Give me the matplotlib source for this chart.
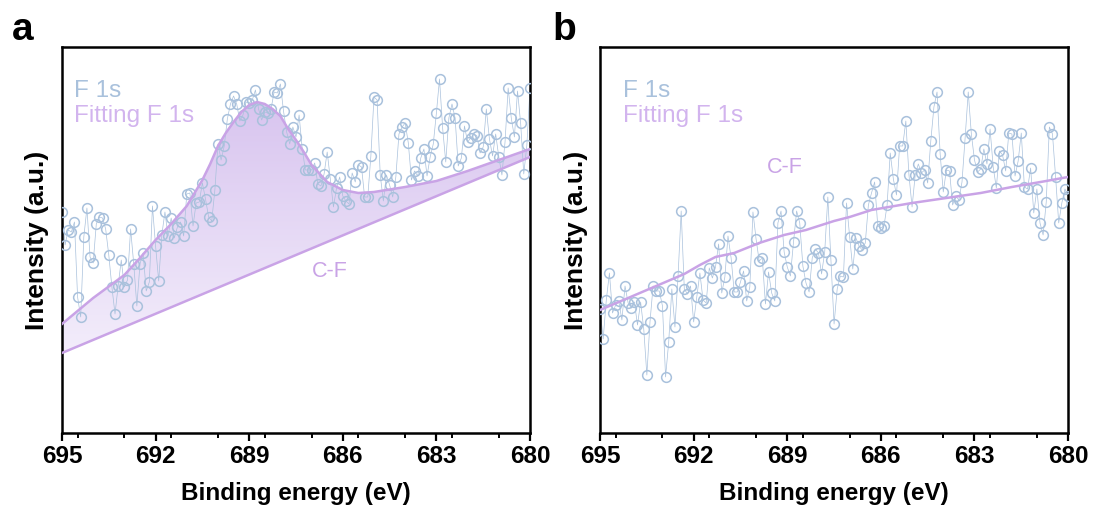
import matplotlib.pyplot as plt
import numpy as np
from matplotlib.colors import LinearSegmentedColormap
from matplotlib.ticker import MultipleLocator

plt.rcParams['font.family'] = ['Liberation Sans', 'DejaVu Sans']

# binding energy grid of the scans (eV)
be = np.round(np.arange(695.0, 679.95, -0.1), 1)

# panel a - measured F 1s (a.u.)
f1s_a = [221, 188, 203, 201, 211, 136, 116, 196, 225, 176, 170, 209, 216, 215, 204, 178,
         146, 119, 147, 173, 146, 153, 204, 169, 127, 169, 180, 142, 151, 227, 187, 152,
         198, 221, 197, 215, 195, 206, 211, 197, 239, 240, 207, 230, 231, 250, 234, 216,
         212, 243, 289, 273, 287, 314, 329, 337, 329, 312, 318, 331, 330, 333, 343, 324,
         313, 321, 320, 324, 341, 340, 349, 322, 301, 289, 306, 296, 318, 284, 263, 263,
         263, 270, 249, 247, 259, 281, 254, 226, 245, 256, 237, 232, 229, 260, 251, 268,
         266, 236, 236, 277, 336, 333, 258, 232, 258, 248, 236, 256, 299, 306, 310, 290,
         253, 262, 257, 275, 284, 257, 276, 289, 320, 354, 305, 271, 315, 329, 315, 267,
         275, 307, 291, 295, 299, 297, 280, 286, 324, 294, 277, 299, 276, 258, 291, 345,
         315, 296, 342, 310, 259, 288, 345]

# panel a - fitted envelope and linear background
fit_be_a = [695.0, 694.0, 693.0, 692.5, 692.0, 691.5, 691.0, 690.5, 690.25, 690.0, 689.75,
            689.5, 689.25, 689.0, 688.75, 688.5, 688.25, 688.0, 687.75, 687.5, 687.25,
            687.0, 686.5, 686.0, 685.5, 685.0, 684.0, 683.0, 682.0, 681.0, 680.0]
fit_a = [109, 135, 158, 175, 193, 209, 227, 253, 269, 287, 300,
         311, 321, 328, 331, 329, 324, 317, 304, 293, 281,
         268, 251, 243, 240, 241, 246, 252, 262, 273, 284]
base_be_a = [695.0, 680.0]
base_a = [80, 276]

# panel b - measured F 1s (a.u.)
f1s_b = [124, 94, 133, 160, 120, 128, 132, 113, 147, 130, 125, 131, 108, 131, 104, 58,
         111, 147, 142, 142, 127, 56, 91, 144, 106, 157, 222, 144, 139, 147, 111, 136,
         160, 133, 130, 165, 155, 166, 189, 140, 156, 197, 175, 141, 141, 151, 162, 132,
         146, 221, 194, 172, 175, 129, 161, 140, 132, 210, 222, 181, 166, 157, 191, 222,
         210, 167, 150, 141, 175, 184, 180, 159, 181, 236, 173, 109, 144, 157, 156, 230,
         196, 164, 195, 187, 183, 190, 228, 240, 251, 207, 205, 207, 228, 280, 254, 238,
         287, 287, 312, 258, 226, 258, 269, 260, 263, 250, 292, 326, 341, 279, 241, 263,
         262, 228, 237, 233, 251, 295, 341, 299, 273, 261, 264, 284, 269, 304, 266, 245,
         282, 278, 262, 300, 299, 257, 272, 300, 246, 244, 265, 220, 244, 210, 198, 231,
         306, 299, 256, 210, 230, 244, 237]

# panel b - fitted envelope
fit_be_b = [695.0, 693.2, 692.3, 691.8, 691.3, 690.7, 689.9, 689.1, 688.4, 687.5, 687.0,
            686.3, 685.0, 683.9, 682.8, 681.8, 680.7, 680.0]
fit_b = [123, 147, 159, 168, 176, 180, 190, 198, 203, 212, 216,
         223, 230, 235, 240, 246, 252, 256]

data_col = '#a9c1dc'
fit_col = '#c9a3e6'
label_col = '#d2b4ee'
fill_cmap = LinearSegmentedColormap.from_list('fill', ['#f3edfb', '#d8c4ef'])

fig = plt.figure(figsize=(10.93, 5.07), dpi=100)
ax_a = fig.add_axes([0.0567, 0.146, 0.4282, 0.7613])
ax_b = fig.add_axes([0.549, 0.146, 0.4282, 0.7613])


def style(ax):
    ax.set_xlim(695, 680)
    ax.set_ylim(0, 386)
    ax.set_xticks([695, 692, 689, 686, 683, 680])
    ax.xaxis.set_minor_locator(MultipleLocator(1.5))
    ax.set_yticks([])
    for s in ax.spines.values():
        s.set_linewidth(1.8)
    ax.tick_params(axis='x', which='major', direction='out', length=6, width=1.6,
                   labelsize=17.5, pad=3)
    ax.tick_params(axis='x', which='minor', direction='out', length=3.5, width=1.4)
    for t in ax.get_xticklabels():
        t.set_fontweight('bold')
    ax.set_xlabel('Binding energy (eV)', fontsize=17.5, fontweight='bold', labelpad=10)
    ax.set_ylabel('Intensity (a.u.)', fontsize=19, fontweight='bold', labelpad=9)


# panel a
poly = ax_a.fill(fit_be_a + base_be_a[::-1], fit_a + base_a[::-1],
                 facecolor='none', edgecolor='none')[0]
grad = np.linspace(0, 1, 256).reshape(-1, 1)
im = ax_a.imshow(grad, cmap=fill_cmap, origin='lower', aspect='auto',
                 extent=[695, 680, 80, 335], zorder=1)
im.set_clip_path(poly)
ax_a.plot(be, f1s_a, '-', color=data_col, lw=0.5, zorder=2)
ax_a.plot(be, f1s_a, 'o', mfc='none', mec=data_col, mew=1.1, ms=7, zorder=3)
ax_a.plot(fit_be_a, fit_a, color=fit_col, lw=1.8, zorder=4)
ax_a.plot(base_be_a, base_a, color=fit_col, lw=1.8, zorder=4)
ax_a.text(0.026, 0.870, 'F 1s', transform=ax_a.transAxes, color=data_col, fontsize=17.5)
ax_a.text(0.026, 0.806, 'Fitting F 1s', transform=ax_a.transAxes, color=label_col, fontsize=17.5)
ax_a.text(686.41, 161, 'C-F', color=fit_col, fontsize=15.5, ha='center', va='center')
style(ax_a)

# panel b
ax_b.plot(be, f1s_b, '-', color=data_col, lw=0.5, zorder=2)
ax_b.plot(be, f1s_b, 'o', mfc='none', mec=data_col, mew=1.1, ms=7, zorder=3)
ax_b.plot(fit_be_b, fit_b, color=fit_col, lw=1.8, zorder=4)
ax_b.text(0.049, 0.870, 'F 1s', transform=ax_b.transAxes, color=data_col, fontsize=17.5)
ax_b.text(0.049, 0.806, 'Fitting F 1s', transform=ax_b.transAxes, color=label_col, fontsize=17.5)
ax_b.text(689.07, 265, 'C-F', color=fit_col, fontsize=15.5, ha='center', va='center')
style(ax_b)

fig.text(0.011, 0.921, 'a', fontsize=28, fontweight='bold')
fig.text(0.505, 0.921, 'b', fontsize=28, fontweight='bold')

fig.savefig('out.png', dpi=100)
